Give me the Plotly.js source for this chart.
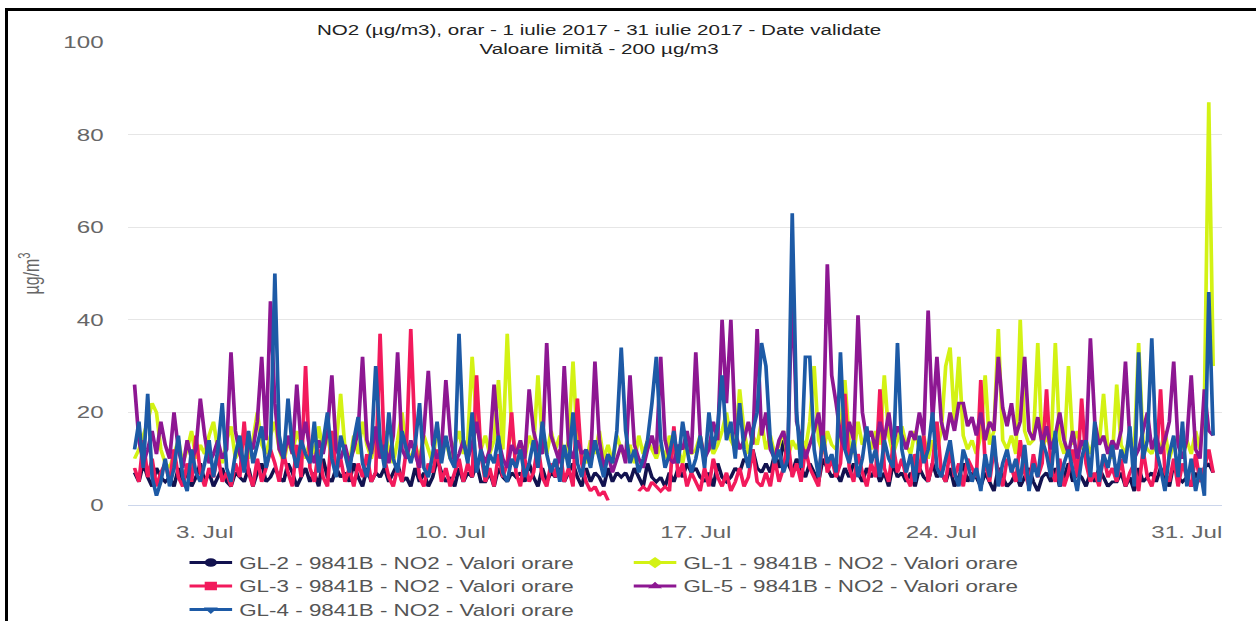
<!DOCTYPE html>
<html>
<head>
<meta charset="utf-8">
<script src="https://cdn.plot.ly/plotly-3.0.1.min.js"></script>
<style>
html,body{margin:0;padding:0;background:#fff;overflow:hidden;width:1256px;height:621px;}
#frame{position:absolute;left:5px;top:8px;width:1300px;height:700px;border-left:3px solid #000;border-top:3px solid #000;z-index:10;pointer-events:none;}
#chart{position:absolute;left:0;top:0;width:885px;height:621px;transform:scaleX(1.4192);transform-origin:0 0;}
</style>
</head>
<body>
<div id="frame"></div>
<div id="chart"></div>
<script>
// Hourly NO2 readings, sampled every 3 hours from 1 July 2017 00:00
const startDate = '2017-07-01';
const stepHours = 3;

const seriesNames = [
  'GL-2 - 9841B - NO2 - Valori orare',
  'GL-1 - 9841B - NO2 - Valori orare',
  'GL-3 - 9841B - NO2 - Valori orare',
  'GL-5 - 9841B - NO2 - Valori orare',
  'GL-4 - 9841B - NO2 - Valori orare'
];

const gl2 = [
  7,5,9,6,4,8,6,5,
  6,4,8,5,7,4,6,9,
  5,7,4,6,8,5,4,7,
  6,5,8,4,7,9,5,6,
  8,6,5,9,7,4,6,8,
  5,7,4,10,6,5,8,6,
  7,5,9,6,4,8,5,7,
  6,8,5,7,9,5,6,4,
  8,5,7,4,6,10,7,5,
  6,4,8,5,7,6,9,5,
  5,7,4,8,6,5,7,6,
  7,5,9,6,4,8,5,7,
  6,8,5,7,9,6,4,8,
  5,7,6,4,8,5,7,6,
  7,5,8,6,4,9,6,5,
  6,4,7,5,8,6,9,7,
  8,6,5,7,4,9,6,5,
  6,8,7,10,9,12,8,7,
  9,7,11,8,14,9,7,10,
  8,6,9,7,5,10,8,6,
  7,5,8,6,9,7,5,8,
  6,8,5,7,4,9,6,7,
  5,7,4,8,6,5,9,6,
  7,5,8,4,6,9,5,7,
  6,4,7,5,3,8,6,4,
  5,7,4,6,8,5,3,6,
  7,5,8,4,6,9,5,7,
  6,4,7,5,8,6,4,5,
  5,7,4,6,3,8,5,6,
  7,5,8,6,4,9,6,5,
  6,4,7,5,8,9,7
];

const gl1 = [
  10,12,15,18,22,20,12,9,
  8,11,14,9,12,16,10,13,
  11,15,18,12,9,14,17,10,
  12,16,10,14,20,13,11,15,
  18,12,9,14,11,16,13,10,
  14,11,17,12,15,10,13,24,
  12,9,15,11,18,13,10,14,
  11,16,12,9,14,20,12,10,
  13,10,15,12,9,17,11,14,
  10,13,16,11,14,32,18,12,
  15,11,14,27,12,37,16,11,
  13,10,15,12,28,14,11,16,
  12,15,10,14,31,13,11,9,
  14,11,16,10,13,9,15,12,
  10,13,9,15,11,14,12,10,
  13,10,15,11,12,9,14,11,
  12,15,10,14,11,13,16,20,
  14,12,25,16,11,15,13,18,
  12,15,11,13,16,10,14,12,
  15,12,18,30,14,11,16,13,
  12,16,27,14,11,18,13,15,
  12,16,13,28,15,11,14,17,
  13,11,16,12,15,10,14,12,
  16,30,34,18,32,15,12,14,
  11,15,28,13,16,38,14,12,
  15,11,40,16,13,14,35,12,
  15,12,35,14,11,30,13,16,
  12,14,11,15,13,24,12,10,
  26,13,11,15,12,35,14,12,
  11,14,12,16,10,13,15,12,
  14,11,16,12,22,87,30
];

const gl3 = [
  8,5,14,6,10,4,7,9,
  5,12,6,4,9,5,15,7,
  4,8,6,11,5,7,4,9,
  6,18,7,4,10,5,8,12,
  9,5,11,7,4,13,6,30,
  8,5,12,6,4,16,7,10,
  5,8,4,9,6,11,5,7,
  37,10,6,4,8,5,12,38,
  14,6,4,9,7,12,5,8,
  4,7,10,5,9,6,28,11,
  5,8,4,11,6,9,20,7,
  4,10,5,7,13,6,4,9,
  6,12,5,8,4,23,9,5,
  3,4,2,3,1,null,null,null,
  null,null,null,3,4,3,5,4,
  3,4,3,17,6,9,4,7,
  5,3,8,4,10,6,4,7,
  3,5,8,4,6,12,5,4,
  7,4,10,5,8,14,6,9,
  5,12,8,6,4,16,7,10,
  6,9,24,8,5,11,7,4,
  9,6,25,8,5,13,7,10,
  6,4,11,7,15,5,9,18,
  7,5,12,6,9,4,10,8,
  6,27,9,5,12,7,4,10,
  8,5,14,7,4,11,6,9,
  25,8,5,10,4,7,12,6,
  23,9,5,7,4,11,6,8,
  5,10,4,7,9,3,12,6,
  4,8,25,7,5,10,4,9,
  6,4,11,5,8,12,7
];

const gl5 = [
  26,14,9,12,16,11,18,13,
  10,20,12,8,14,10,12,23,
  15,9,11,14,10,12,33,16,
  11,8,13,12,18,32,14,44,
  22,12,10,15,11,26,13,18,
  12,9,14,11,16,28,12,10,
  13,9,12,16,32,14,11,17,
  10,13,9,15,33,12,10,14,
  11,8,16,29,13,10,12,27,
  15,9,11,14,10,13,18,12,
  9,12,26,14,10,8,13,11,
  14,10,25,16,12,11,35,15,
  12,9,30,13,10,14,11,12,
  9,31,14,8,11,7,10,13,
  9,28,13,10,8,12,15,11,
  32,14,10,9,13,12,16,11,
  33,15,10,12,18,14,40,22,
  40,16,12,14,18,13,38,15,
  20,12,10,14,16,11,48,18,
  14,10,13,16,20,12,52,28,
  22,15,12,18,14,41,20,14,
  16,12,18,14,20,13,17,15,
  12,16,14,20,15,42,18,32,
  18,14,20,16,22,22,17,19,
  15,20,14,18,16,32,21,17,
  22,15,18,32,16,14,19,13,
  17,12,15,20,14,11,16,10,
  14,12,36,18,13,15,11,14,
  12,16,31,14,10,12,16,20,
  12,15,11,14,18,31,13,10,
  14,28,12,10,25,16,15
];

const gl4 = [
  12,18,8,24,6,2,5,10,
  4,8,15,6,3,12,7,5,
  9,14,6,12,22,8,5,11,
  15,7,16,9,13,17,8,12,
  50,15,10,23,12,8,14,11,
  9,18,7,13,20,10,6,15,
  11,7,14,19,9,6,12,30,
  14,8,20,10,7,16,12,9,
  13,22,8,6,11,18,9,15,
  10,8,37,14,9,20,7,12,
  6,11,9,15,7,5,10,8,
  12,6,9,14,8,18,11,7,
  10,5,13,8,20,9,6,12,
  8,14,10,6,11,9,16,34,
  16,9,12,7,10,14,22,32,
  14,8,11,16,9,18,12,7,
  10,15,8,20,12,17,28,14,
  18,10,22,12,8,16,20,35,
  30,14,9,12,7,10,63,20,
  8,32,32,12,6,15,9,11,
  7,33,12,9,14,6,10,17,
  9,12,6,14,10,8,35,12,
  7,11,5,15,9,12,20,8,
  6,10,14,7,4,12,9,5,
  8,3,11,6,15,4,9,12,
  7,10,5,13,3,9,6,14,
  11,6,16,4,9,12,7,3,
  10,14,6,18,5,11,8,13,
  6,12,9,17,4,33,10,14,
  36,12,8,3,11,15,6,18,
  4,10,3,8,2,46,15
];

const seriesValues = [gl2, gl1, gl3, gl5, gl4];
const seriesColors = ['#12124f', '#d3f214', '#f21a5c', '#8d1792', '#1d5aa6'];
const seriesSymbols = ['circle', 'diamond', 'square', 'triangle-up', 'triangle-down'];

const tickDates = ['2017-07-03', '2017-07-10', '2017-07-17', '2017-07-24', '2017-07-31'];
const tickLabels = ['3. Jul', '10. Jul', '17. Jul', '24. Jul', '31. Jul'];

function pad(n){ return (n < 10 ? '0' : '') + n; }
function timeAt(i){
  const d = new Date(Date.parse(startDate + 'T00:00:00Z') + i * stepHours * 3600000);
  return d.getUTCFullYear() + '-' + pad(d.getUTCMonth()+1) + '-' + pad(d.getUTCDate()) + ' ' + pad(d.getUTCHours()) + ':00';
}

const traces = seriesValues.map(function(vals, k){
  return {
    type: 'scatter',
    mode: 'lines+markers',
    name: seriesNames[k],
    x: vals.map(function(_, i){ return timeAt(i); }),
    y: vals,
    connectgaps: false,
    line: {color: seriesColors[k], width: 2.6},
    marker: {color: seriesColors[k], size: 0.4, symbol: seriesSymbols[k]}
  };
});

const font = 'Liberation Sans, Arial, sans-serif';

const layout = {
  width: 885,
  height: 621,
  margin: {l: 90, r: 24, t: 42, b: 116, autoexpand: false},
  paper_bgcolor: 'rgba(0,0,0,0)',
  plot_bgcolor: '#ffffff',
  font: {family: font, color: '#666666'},
  title: {
    text: 'NO2 (µg/m3), orar - 1 iulie 2017 - 31 iulie 2017 - Date validate<br>Valoare limită - 200 µg/m3',
    font: {family: font, size: 14.5, color: '#222222'},
    x: 0.477, xanchor: 'center', xref: 'container',
    y: 0.943, yanchor: 'top', yref: 'container'
  },
  xaxis: {
    type: 'date',
    range: ['2017-06-30 19:20', '2017-08-01 00:00'],
    tickvals: tickDates,
    ticktext: tickLabels,
    showgrid: false,
    showline: true,
    linecolor: '#ccd6eb',
    linewidth: 1,
    ticks: '',
    ticklabelstandoff: 12,
    tickfont: {family: font, size: 17, color: '#666666'},
    zeroline: false
  },
  yaxis: {
    range: [0, 100],
    tickvals: [0, 20, 40, 60, 80, 100],
    showgrid: true,
    gridcolor: '#e6e6e6',
    gridwidth: 1,
    zeroline: false,
    showline: false,
    ticks: '',
    ticklabelstandoff: 16,
    tickfont: {family: font, size: 17, color: '#666666'},
    title: {text: 'µg/m<sup>3</sup>', font: {family: font, size: 16, color: '#666666'}, standoff: 12}
  },
  showlegend: true,
  legend: {
    orientation: 'h',
    x: 0.05, xanchor: 'left',
    y: -0.088, yanchor: 'top',
    entrywidth: 268,
    entrywidthmode: 'pixels',
    itemsizing: 'constant',
    traceorder: 'normal',
    font: {family: font, size: 15.8, color: '#555555'},
    bgcolor: 'rgba(0,0,0,0)',
    tracegroupgap: 0
  }
};

Plotly.newPlot('chart', traces, layout, {staticPlot: true, displayModeBar: false}).then(function(gd){
  // slimmer legend symbols, like the reference
  gd.querySelectorAll('.legend .legendlines path').forEach(function(p){ p.style.strokeWidth = '3px'; });
  gd.querySelectorAll('.legend .legendpoints path').forEach(function(p){
    var t = p.getAttribute('transform') || '';
    p.setAttribute('transform', t + ' scale(0.72)');
  });
});
</script>
</body>
</html>
